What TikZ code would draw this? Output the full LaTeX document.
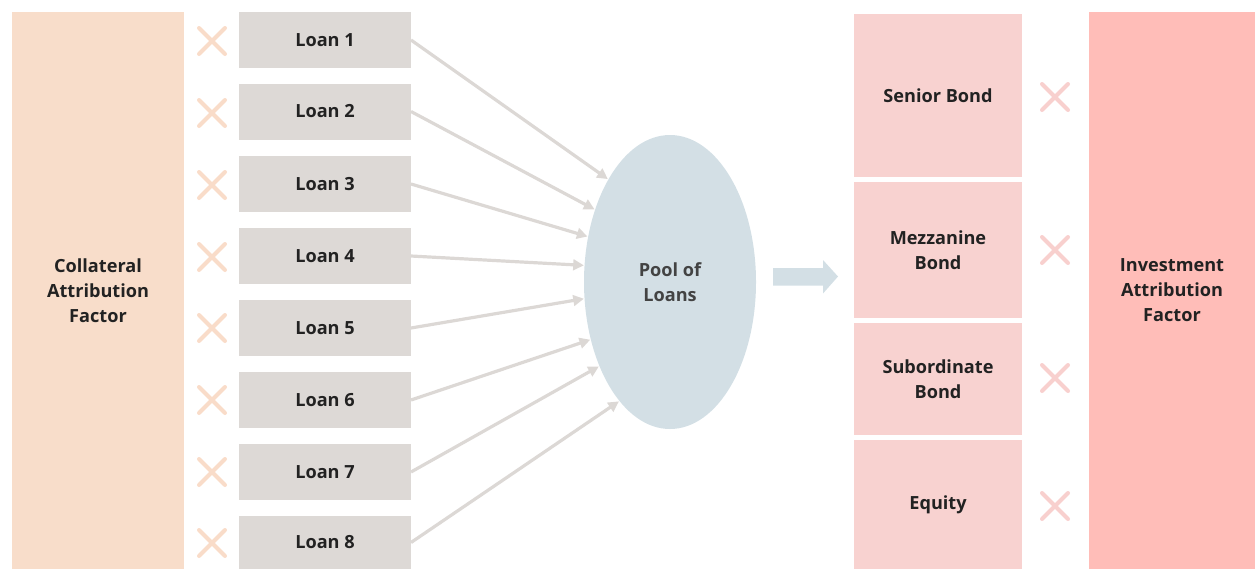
\documentclass[tikz,border=0pt]{standalone}
\usepackage{fontspec}
\setmainfont{Open Sans}
\usetikzlibrary{shapes.geometric,arrows.meta}
\definecolor{peach}{HTML}{F8DDCA}
\definecolor{loanfill}{HTML}{DDD9D6}
\definecolor{poolfill}{HTML}{D3DFE5}
\definecolor{trfill}{HTML}{F8D2D0}
\definecolor{invfill}{HTML}{FFBDB8}
\definecolor{xleft}{HTML}{F9DCC9}
\definecolor{xright}{HTML}{F8D0CE}
\definecolor{txt}{HTML}{222222}
\definecolor{arr}{HTML}{DCD8D5}
\definecolor{blockarr}{HTML}{D3DFE5}
\tikzset{
  lbl/.style={font=\bfseries\fontsize{13.6}{18.75}\selectfont, text=txt, align=center},
  loanbox/.style={lbl, fill=loanfill, draw=none, minimum width=172*0.75pt, minimum height=56*0.75pt, inner sep=0, outer sep=0},
  trbox/.style={lbl, fill=trfill, draw=none, minimum width=168*0.75pt, inner sep=0, outer sep=0},
  feed/.style={draw=arr, line width=2.4pt, -{Triangle[length=8pt,width=8pt]}, shorten >=0.5pt},
  xmark/.style={line width=3pt, line cap=round},
}
\begin{document}
\begin{tikzpicture}[x=0.75pt,y=-0.75pt]
\useasboundingbox (0,0) rectangle (1255,569);
% side boxes
\node[lbl, fill=peach, minimum width=172*0.75pt, minimum height=557*0.75pt, inner sep=0] (caf) at (98,290.5) {Collateral\\Attribution\\Factor};
\node[lbl, fill=invfill, minimum width=166*0.75pt, minimum height=557*0.75pt, inner sep=0] (iaf) at (1172,290.5) {Investment\\Attribution\\Factor};
% loans
\node[loanbox] (l1) at (325,40) {Loan 1};
\node[loanbox] (l2) at (325,111.5) {Loan 2};
\node[loanbox] (l3) at (325,184) {Loan 3};
\node[loanbox] (l4) at (325,256) {Loan 4};
\node[loanbox] (l5) at (325,328) {Loan 5};
\node[loanbox] (l6) at (325,400) {Loan 6};
\node[loanbox] (l7) at (325,472) {Loan 7};
\node[loanbox, minimum height=53*0.75pt] (l8) at (325,542.5) {Loan 8};
% left x marks
\foreach \y in {41,113,185,257,328,400,472,543} {
  \draw[xmark, draw=xleft] (199,\y-13) -- (225,\y+13) (225,\y-13) -- (199,\y+13);
}
% pool
\node[lbl, ellipse, fill=poolfill, minimum width=172*0.75pt, minimum height=294*0.75pt, inner sep=0, outer sep=0, text=txt!85] (pool) at (670,282) {Pool of\\Loans};
% feeds
\draw[feed] (l1.east) -- (pool.121);
\draw[feed] (l2.east) -- (pool.136.5);
\draw[feed] (l3.east) -- (pool.151.6);
\draw[feed] (l4.east) -- (pool.169.7);
\draw[feed] (l5.east) -- (pool.191.6);
\draw[feed] (l6.east) -- (pool.216);
\draw[feed] (l7.east) -- (pool.230.7);
\draw[feed] (l8.east) -- (pool.247.4);
% tranches
\node[trbox, minimum height=163*0.75pt] (sen) at (938,95.5) {Senior Bond};
\node[trbox, minimum height=136*0.75pt] (mez) at (938,250) {Mezzanine\\Bond};
\node[trbox, minimum height=112*0.75pt] (sub) at (938,379) {Subordinate\\Bond};
\node[trbox, minimum height=129*0.75pt] (eq) at (938,504.5) {Equity};
% block arrow
\coordinate (ba) at (773,276.5);
\fill[blockarr] (ba) ++(0,-8.5) -- ++(50,0) -- ++(0,-8) -- ++(15,16.5) -- ++(-15,17) -- ++(0,-8) -- ++(-50,0) -- cycle;
% right x marks
\foreach \y in {97,250,378,506} {
  \draw[xmark, draw=xright] (1042,\y-13) -- (1068,\y+13) (1068,\y-13) -- (1042,\y+13);
}
\end{tikzpicture}
\end{document}
